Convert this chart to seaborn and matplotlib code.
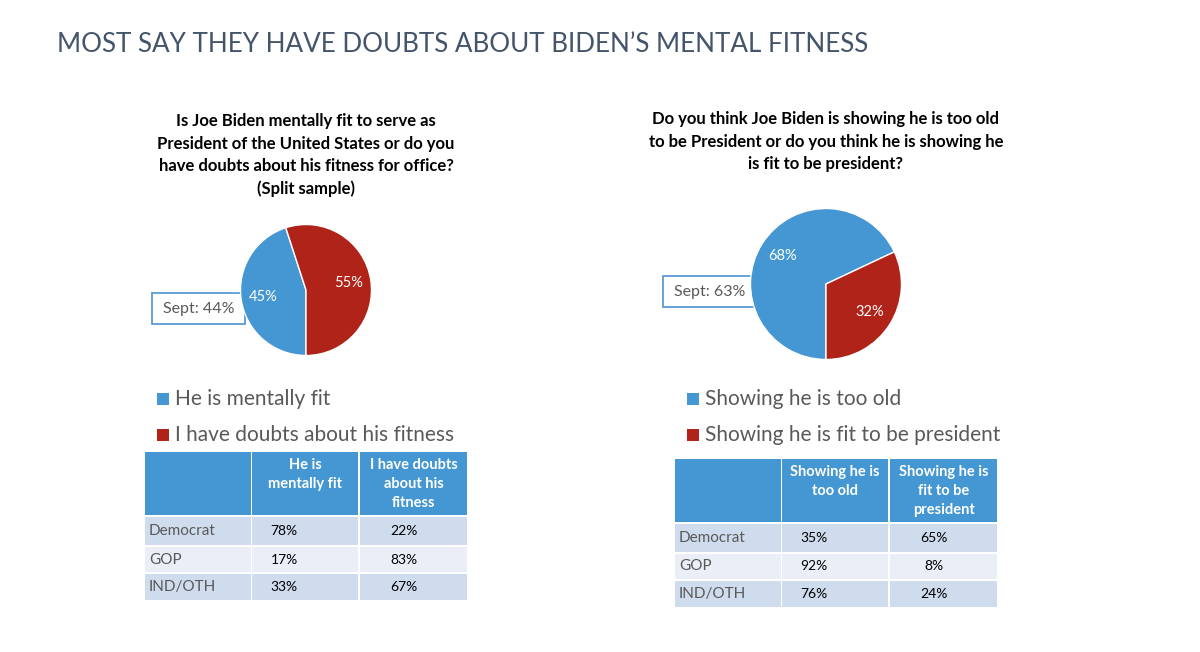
import matplotlib
matplotlib.use("Agg")
import matplotlib.pyplot as plt
import seaborn as sns
from matplotlib.patches import Rectangle

# data
title = "MOST SAY THEY HAVE DOUBTS ABOUT BIDEN\u2019S MENTAL FITNESS"

q1 = "Is Joe Biden mentally fit to serve as\nPresident of the United States or do you\nhave doubts about his fitness for office?\n(Split sample)"
q1_labels = ["He is mentally fit", "I have doubts about his fitness"]
q1_values = [45, 55]
q1_sept = "Sept: 44%"
q1_headers = ["He is\nmentally fit", "I have doubts\nabout his\nfitness"]

q2 = "Do you think Joe Biden is showing he is too old\nto be President or do you think he is showing he\nis fit to be president?"
q2_labels = ["Showing he is too old", "Showing he is fit to be president"]
q2_values = [68, 32]
q2_sept = "Sept: 63%"
q2_headers = ["Showing he is\ntoo old", "Showing he is\nfit to be\npresident"]

parties = ["Democrat", "GOP", "IND/OTH"]
q1_col1 = ["78%", "17%", "33%"]
q1_col2 = ["22%", "83%", "67%"]
q2_col1 = ["35%", "92%", "76%"]
q2_col2 = ["65%", "8%", "24%"]

BLUE = "#4597D3"
RED = "#B02318"
GRAY = "#595959"
ROW_DARK = "#CFDCEE"
ROW_LIGHT = "#E9EEF7"

sns.set_theme(style="white")
plt.rcParams["font.family"] = ["Lato", "DejaVu Sans"]

W, H = 1200, 652
fig = plt.figure(figsize=(12, 6.52), dpi=100)
fig.patch.set_facecolor("white")

# overlay axes in pixel coordinates
ax = fig.add_axes([0, 0, 1, 1])
ax.set_xlim(0, W)
ax.set_ylim(H, 0)
ax.axis("off")

ax.text(57, 45, title, fontsize=18.7, color="#44546A", va="center", ha="left")


def draw_pie(cx, cy, r, values, pctdist):
    pax = fig.add_axes([(cx - r) / W, 1 - (cy + r) / H, 2 * r / W, 2 * r / H])
    wedges, texts, autotexts = pax.pie(
        values, colors=[BLUE, RED], startangle=270, counterclock=False,
        autopct="%d%%", pctdistance=pctdist,
        textprops=dict(color="white", fontsize=10.5))
    pax.set_xlim(-1, 1)
    pax.set_ylim(-1, 1)
    pax.axis("off")


def draw_panel(x0, cx, qtext, qy, labels, sept, sept_xy, headers, col1, col2, ty):
    ax.text(cx, qy, qtext, fontsize=12, fontweight="bold", color="black",
            ha="center", va="top", linespacing=1.5)
    # sept box
    sx, sy = sept_xy
    ax.add_patch(Rectangle((sx, sy), 93, 31, facecolor="white",
                           edgecolor="#5B9BD5", linewidth=1.3, zorder=5))
    ax.text(sx + 46.5, sy + 16, sept, fontsize=11.5, color=GRAY,
            ha="center", va="center", zorder=6)
    # legend
    for i, (lab, col) in enumerate(zip(labels, [BLUE, RED])):
        yy = 399 + i * 36
        ax.add_patch(Rectangle((x0 + 12, yy - 6), 12, 12, facecolor=col, edgecolor="none"))
        ax.text(x0 + 30, yy, lab, fontsize=15, color=GRAY, va="center", ha="left")
    # table
    cols = [(x0, 106), (x0 + 107, 106), (x0 + 215, 107)]
    ax.add_patch(Rectangle((cols[0][0], ty), 106, 63, facecolor=BLUE, edgecolor="none"))
    for (cxx, cw), hd in zip(cols[1:], headers):
        ax.add_patch(Rectangle((cxx, ty), cw, 63, facecolor=BLUE, edgecolor="none"))
        ax.text(cxx + cw / 2, ty + 6, hd, fontsize=10.5, fontweight="bold", color="white",
                ha="center", va="top", linespacing=1.45)
    rows = [(ty + 65, 28), (ty + 95, 25), (ty + 122, 26)]
    for i, ((ry, rh), party) in enumerate(zip(rows, parties)):
        fc = ROW_DARK if i % 2 == 0 else ROW_LIGHT
        for cxx, cw in cols:
            ax.add_patch(Rectangle((cxx, ry), cw, rh, facecolor=fc, edgecolor="none"))
        ax.text(x0 + 4, ry + rh / 2, party, fontsize=11, color=GRAY, va="center", ha="left")
        ax.text(cols[1][0] + 32, ry + rh / 2, col1[i], fontsize=10, color="black",
                va="center", ha="center")
        ax.text(cols[2][0] + 44, ry + rh / 2, col2[i], fontsize=10, color="black",
                va="center", ha="center")


draw_panel(145, 306, q1, 113, q1_labels, q1_sept, (152, 293), q1_headers, q1_col1, q1_col2, 452)
draw_panel(675, 826, q2, 111, q2_labels, q2_sept, (663, 276), q2_headers, q2_col1, q2_col2, 459)

draw_pie(306, 290, 65.5, q1_values, 0.66)
draw_pie(826, 284, 75.5, q2_values, 0.68)

fig.savefig("out.png", dpi=100)
